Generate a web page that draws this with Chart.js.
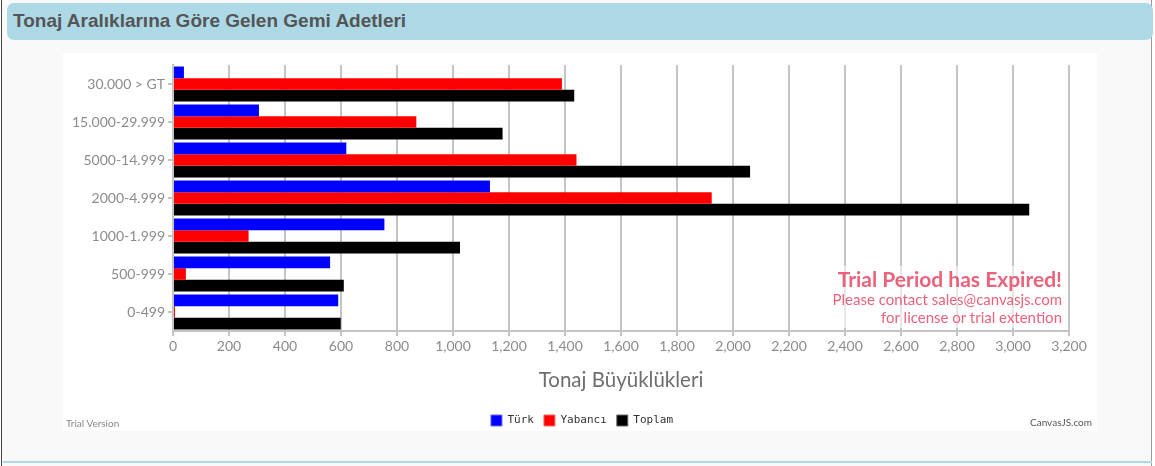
<!DOCTYPE html>
<html>
<head>
<meta charset="utf-8">
<script src="https://cdn.jsdelivr.net/npm/chart.js@4.4.0/dist/chart.umd.min.js"></script>
<style>
  html, body { margin: 0; padding: 0; background: #ffffff; width: 1155px; height: 466px; overflow: hidden; }
  #panel { position: absolute; left: 1px; top: 0; width: 1151px; height: 466px; background: #f9f9f9;
           border-left: 1px solid #444; border-right: 1px solid #999; box-sizing: border-box; }
  #header { position: absolute; left: 7px; top: 3px; width: 1146px; height: 37px; background: #add8e6;
            border-radius: 7px; box-sizing: border-box; }
  #header span { position: absolute; left: 6px; top: 7px; font-family: "Liberation Sans", Arial, sans-serif;
                 font-weight: bold; font-size: 19px; color: #555555; white-space: nowrap; }
  #chartbox { position: absolute; left: 63px; top: 53px; width: 1034px; height: 378px; background: #ffffff; }
  #bottomline { position: absolute; left: 3px; top: 461px; width: 1149px; height: 2px; background: #add8e6; }
  .note { position: absolute; font-family: Lato, sans-serif; font-size: 10px; white-space: nowrap; }
  #wm { position: absolute; left: 739px; top: 213px; width: 260px; text-align: right; font-family: Lato, sans-serif;
        color: rgba(230, 70, 100, 0.85); background: rgba(255,255,255,0.6); line-height: 1; padding: 2px 0; }
  #wm .l1 { font-size: 21px; font-weight: bold; line-height: 22px; }
  #wm .l2 { font-size: 15px; line-height: 18px; }
</style>
</head>
<body>
<div id="panel"></div>
<div id="header"><span>Tonaj Aralıklarına Göre Gelen Gemi Adetleri</span></div>
<div id="chartbox">
  <canvas id="c"></canvas>
  <div id="wm"><div class="l1">Trial Period has Expired!</div><div class="l2">Please contact sales@canvasjs.com</div><div class="l2">for license or trial extention</div></div>
  <div class="note" style="left:3px; top:364px; color:#888;">Trial Version</div>
  <div class="note" style="right:5px; top:363px; color:#555;">CanvasJS.com</div>
</div>
<div id="bottomline"></div>
<script>
const categories = ["30.000 > GT", "15.000-29.999", "5000-14.999", "2000-4.999", "1000-1.999", "500-999", "0-499"];
const turk    = [39, 307, 619, 1132, 755, 561, 590];
const yabanci = [1389, 869, 1441, 1924, 270, 46, 7];
const toplam  = [1433, 1177, 2061, 3058, 1025, 610, 599];
const seriesNames = ["Türk", "Yabancı", "Toplam"];
const xTitle = "Tonaj Büyüklükleri";

const tickColor = '#8c8c8c';
const legendShift = {
  id: 'legendShift',
  afterLayout(chart) {
    if (chart.legend) { chart.legend.left += 16; chart.legend.right += 16; }
  }
};
new Chart(document.getElementById('c'), {
  type: 'bar',
  data: {
    labels: categories,
    datasets: [
      { label: seriesNames[0], data: turk, backgroundColor: '#0000ff', borderColor: '#6666ff', borderWidth: 0 },
      { label: seriesNames[1], data: yabanci, backgroundColor: '#ff0000', borderColor: '#ff6666', borderWidth: 0 },
      { label: seriesNames[2], data: toplam, backgroundColor: '#000000', borderColor: '#666666', borderWidth: 0 }
    ]
  },
  plugins: [legendShift],
  options: {
    indexAxis: 'y',
    responsive: true,
    maintainAspectRatio: false,
    animation: false,
    datasets: { bar: { categoryPercentage: 0.92, barPercentage: 1.0 } },
    layout: { padding: { top: 12, left: 0, right: 28, bottom: -5 } },
    plugins: {
      legend: {
        position: 'bottom',
        labels: {
          boxWidth: 11, boxHeight: 11, padding: 10,
          color: '#333333',
          font: { family: '"DejaVu Sans Mono", monospace', size: 11 },
          generateLabels(chart) {
            return chart.data.datasets.map((ds, i) => ({
              text: ds.label, fillStyle: ds.backgroundColor, strokeStyle: ds.borderColor,
              lineWidth: 1, hidden: false, datasetIndex: i, fontColor: '#333333'
            }));
          }
        }
      },
      tooltip: { enabled: false }
    },
    scales: {
      x: {
        min: 0, max: 3200,
        ticks: { stepSize: 200, color: tickColor, font: { family: 'Lato', size: 14 }, padding: 2,
                 callback: v => v.toLocaleString('en-US') },
        grid: { color: '#c4c4c4', lineWidth: 2, drawTicks: true, tickLength: 5, tickColor: '#c4c4c4' },
        border: { display: true, color: '#c4c4c4', width: 2 },
        title: { display: true, text: xTitle, color: '#6e6e6e', font: { family: 'Lato', size: 20.5 }, padding: { top: 0, bottom: 12 } },
        afterFit(scale) { scale.height = 74; }
      },
      y: {
        ticks: { color: tickColor, font: { family: 'Lato', size: 14 }, padding: 3 },
        grid: { display: true, drawOnChartArea: false, drawTicks: true, tickLength: 5, offset: false, color: '#c4c4c4', lineWidth: 2 },
        border: { display: true, color: '#c4c4c4', width: 2 },
        afterFit(scale) { scale.width = 110; }
      }
    }
  }
});
</script>
</body>
</html>
